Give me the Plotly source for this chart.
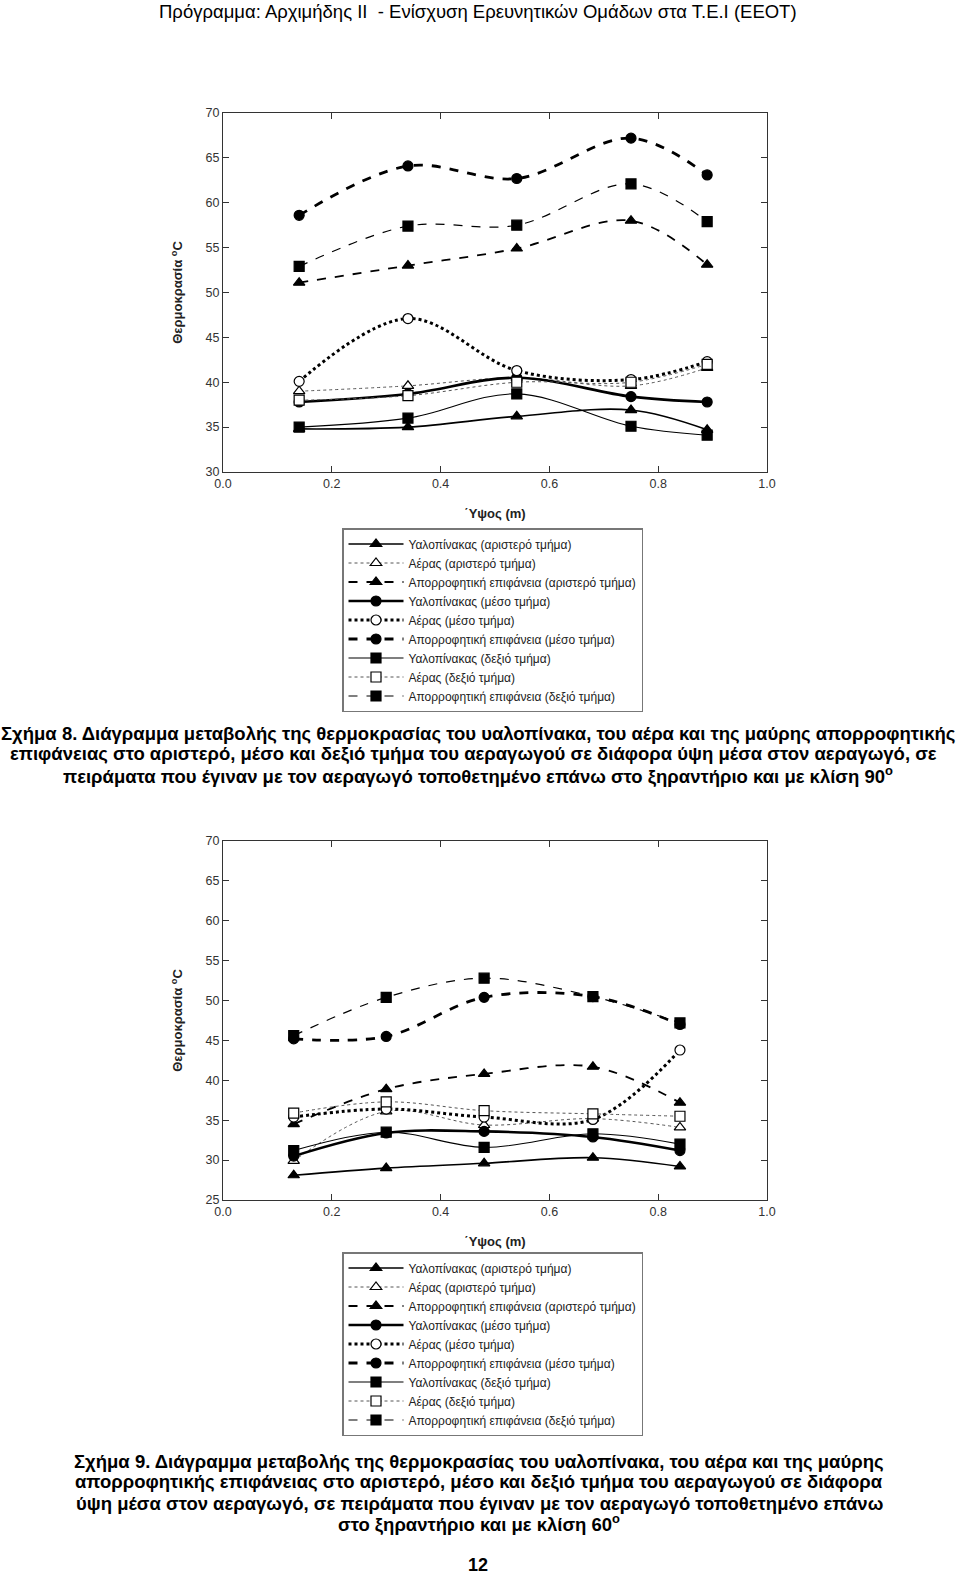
import plotly.graph_objects as go

# ---------------- data ----------------
names = [
    "Υαλοπίνακας (αριστερό τμήμα)",
    "Αέρας (αριστερό τμήμα)",
    "Απορροφητική επιφάνεια (αριστερό τμήμα)",
    "Υαλοπίνακας (μέσο τμήμα)",
    "Αέρας (μέσο τμήμα)",
    "Απορροφητική επιφάνεια (μέσο τμήμα)",
    "Υαλοπίνακας (δεξιό τμήμα)",
    "Αέρας (δεξιό τμήμα)",
    "Απορροφητική επιφάνεια (δεξιό τμήμα)",
]

x8 = [0.14, 0.34, 0.54, 0.75, 0.89]
glass_left_8 = [34.8, 35.0, 36.2, 36.9, 34.7]
air_left_8 = [39.0, 39.6, 40.5, 39.6, 41.6]
abs_left_8 = [51.1, 53.0, 54.9, 58.0, 53.1]
glass_mid_8 = [37.8, 38.7, 40.5, 38.4, 37.8]
air_mid_8 = [40.1, 47.1, 41.3, 40.3, 42.3]
abs_mid_8 = [58.6, 64.1, 62.7, 67.2, 63.1]
glass_right_8 = [35.0, 36.0, 38.7, 35.1, 34.1]
air_right_8 = [38.0, 38.5, 40.0, 40.0, 42.0]
abs_right_8 = [52.9, 57.4, 57.5, 62.1, 57.9]

x9 = [0.13, 0.30, 0.48, 0.68, 0.84]
glass_left_9 = [28.1, 29.0, 29.6, 30.3, 29.2]
air_left_9 = [29.9, 36.1, 34.4, 35.2, 34.1]
abs_left_9 = [34.5, 38.9, 40.8, 41.7, 37.2]
glass_mid_9 = [30.5, 33.4, 33.6, 32.9, 31.2]
air_mid_9 = [35.4, 36.4, 35.4, 35.1, 43.8]
abs_mid_9 = [45.2, 45.5, 50.4, 50.5, 47.0]
glass_right_9 = [31.2, 33.5, 31.6, 33.3, 32.0]
air_right_9 = [35.9, 37.3, 36.2, 35.8, 35.5]
abs_right_9 = [45.6, 50.4, 52.8, 50.5, 47.2]

x_ticks = [0.0, 0.2, 0.4, 0.6, 0.8, 1.0]

# ---------------- styles ----------------
styles = [
    dict(dash="solid", width=1.6, symbol="triangle-up", fill="black"),
    dict(dash="dot", width=1.0, symbol="triangle-up", fill="white"),
    dict(dash="dash", width=1.8, symbol="triangle-up", fill="black"),
    dict(dash="solid", width=2.6, symbol="circle", fill="black"),
    dict(dash="dot", width=3.0, symbol="circle", fill="white"),
    dict(dash="dash", width=2.8, symbol="circle", fill="black"),
    dict(dash="solid", width=1.1, symbol="square", fill="black"),
    dict(dash="dot", width=1.0, symbol="square", fill="white"),
    dict(dash="dash", width=1.2, symbol="square", fill="black"),
]

W, H = 960, 1578
fig = go.Figure()

sets = [
    (x8, [glass_left_8, air_left_8, abs_left_8, glass_mid_8, air_mid_8, abs_mid_8,
          glass_right_8, air_right_8, abs_right_8], "x", "y", "legend"),
    (x9, [glass_left_9, air_left_9, abs_left_9, glass_mid_9, air_mid_9, abs_mid_9,
          glass_right_9, air_right_9, abs_right_9], "x2", "y2", "legend2"),
]

for xs, series, xa, ya, lg in sets:
    for nm, ys, st in zip(names, series, styles):
        linecol = "#555555" if (st["dash"] == "dot" and st["width"] < 2) else "black"
        fig.add_trace(go.Scatter(
            x=xs, y=ys, name=nm, xaxis=xa, yaxis=ya, legend=lg,
            mode="lines+markers",
            line=dict(color=linecol, width=st["width"], dash=st["dash"], shape="spline", smoothing=1.0),
            marker=dict(symbol=st["symbol"], size=10, color=st["fill"],
                        line=dict(color="black", width=1.2)),
        ))

def px_x(v):
    return v / W

def px_y(v):
    return 1 - v / H

axis_font = dict(family="Liberation Sans, Arial, sans-serif", size=12.5, color="#333333")
title_font = dict(family="Liberation Sans, Arial, sans-serif", size=13, color="#222222")

def xaxis_cfg(anchor):
    return dict(domain=[px_x(223), px_x(767)], range=[0, 1], tickvals=x_ticks,
                ticktext=[f"{v:.1f}" for v in x_ticks], anchor=anchor,
                showline=True, linecolor="#333333", linewidth=1.2, mirror="ticks",
                ticks="inside", ticklen=6, tickcolor="#333333", showgrid=False, zeroline=False,
                tickfont=axis_font, automargin=False,
                title=dict(text="<b>΄Υψος (m)</b>", font=title_font, standoff=18))

def yaxis_cfg(anchor, top, bottom, rng, dtick):
    return dict(domain=[px_y(bottom), px_y(top)], range=rng, dtick=dtick, anchor=anchor,
                showline=True, linecolor="#333333", linewidth=1.2, mirror="ticks",
                ticks="inside", ticklen=6, tickcolor="#333333", showgrid=False, zeroline=False,
                tickfont=axis_font, automargin=False,
                title=dict(text="<b>Θερμοκρασία <sup>o</sup>C</b>", font=title_font, standoff=19))

legend_common = dict(
    bgcolor="white", bordercolor="#777777", borderwidth=1.5,
    font=dict(family="Liberation Sans, Arial, sans-serif", size=12, color="#222222"),
    xanchor="left", yanchor="top", itemwidth=55, tracegroupgap=0,
    itemclick=False, itemdoubleclick=False,
)

fig.update_layout(
    width=W, height=H, margin=dict(l=0, r=0, t=0, b=0, autoexpand=False),
    paper_bgcolor="white", plot_bgcolor="white", showlegend=True,
    xaxis=xaxis_cfg("y"),
    yaxis=yaxis_cfg("x", 113, 472, [30, 70], 5),
    xaxis2=xaxis_cfg("y2"),
    yaxis2=yaxis_cfg("x2", 841, 1200, [25, 70], 5),
    legend=dict(x=px_x(342), y=px_y(528), **legend_common),
    legend2=dict(x=px_x(342), y=px_y(1252), **legend_common),
)

narrow = "Liberation Sans Narrow, Arial Narrow, Liberation Sans, sans-serif"
texts = [
    ("Πρόγραμμα: Αρχιμήδης ΙΙ  - Ενίσχυση Ερευνητικών Ομάδων στα Τ.Ε.Ι (ΕΕΟΤ)", 478, 12, 18.5, False),
    ("Σχήμα 8. Διάγραμμα μεταβολής της θερμοκρασίας του υαλοπίνακα, του αέρα και της μαύρης απορροφητικής", 478, 733, 18.5, True),
    ("επιφάνειας στο αριστερό, μέσο και δεξιό τμήμα του αεραγωγού σε διάφορα ύψη μέσα στον αεραγωγό, σε", 473, 754, 18.5, True),
    ("πειράματα που έγιναν με τον αεραγωγό τοποθετημένο επάνω στο ξηραντήριο και με κλίση 90<sup>o</sup>", 478, 775, 18.5, True),
    ("Σχήμα 9. Διάγραμμα μεταβολής της θερμοκρασίας του υαλοπίνακα, του αέρα και της μαύρης", 479, 1461, 18.5, True),
    ("απορροφητικής επιφάνειας στο αριστερό, μέσο και δεξιό τμήμα του αεραγωγού σε διάφορα", 479, 1482, 18.5, True),
    ("ύψη μέσα στον αεραγωγό, σε πειράματα που έγιναν με τον αεραγωγό τοποθετημένο επάνω", 479, 1503, 18.5, True),
    ("στο ξηραντήριο και με κλίση 60<sup>o</sup>", 479, 1523, 18.5, True),
    ("12", 478, 1565, 18, True),
]
for t, cx, cy, fs, bold in texts:
    fig.add_annotation(
        text=f"<b>{t}</b>" if bold else t, x=px_x(cx), y=px_y(cy), xref="paper", yref="paper",
        xanchor="center", yanchor="middle", showarrow=False,
        font=dict(family=narrow, size=fs, color="black"),
    )

fig.write_html("out.html", config={"displayModeBar": False},
               post_script="document.body.style.margin='0';document.body.style.padding='0';")
